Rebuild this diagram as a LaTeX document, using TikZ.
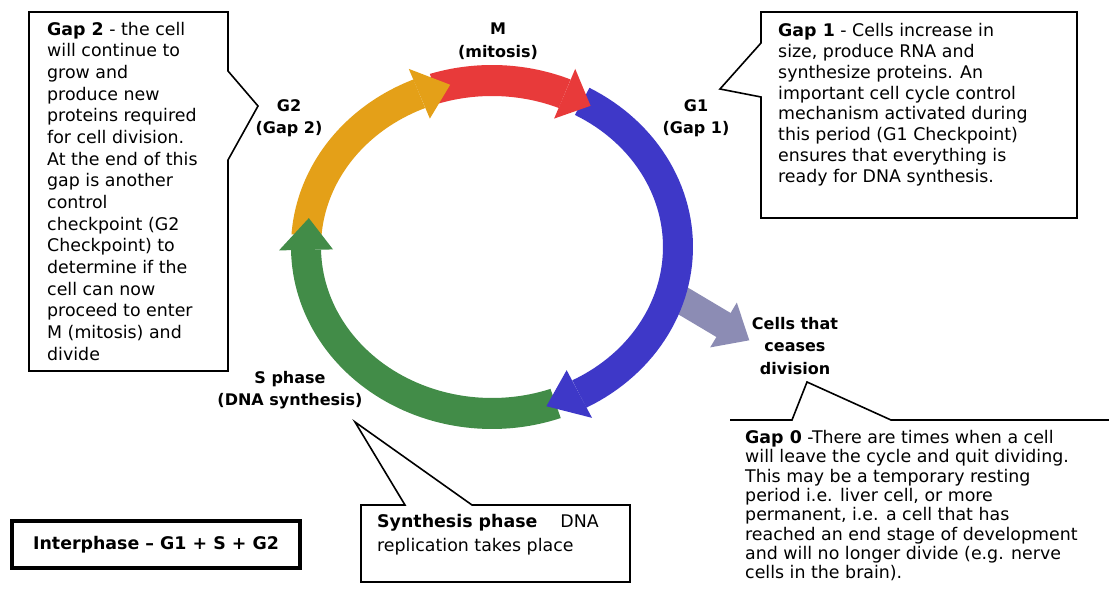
\documentclass[tikz,border=0pt]{standalone}
\usepackage{fontspec}
\setmainfont{DejaVu Sans}
\definecolor{cRed}{RGB}{232,58,58}
\definecolor{cOrange}{RGB}{228,160,24}
\definecolor{cBlue}{RGB}{62,56,200}
\definecolor{cGreen}{RGB}{66,140,72}
\definecolor{cGray}{RGB}{140,140,180}
\newcommand{\ringbody}[3]{%
  \fill[#1] plot[domain=#2:#3,samples=60] ({492+201*cos(\x)},{247-182*sin(\x)})
    -- plot[domain=#3:#2,samples=60] ({492+171*cos(\x)},{247-151*sin(\x)}) -- cycle;}
\newcommand{\ringhead}[3]{%
  \fill[#1] ({492+213*cos(#2)},{247-193.5*sin(#2)})
    -- ({492+186*cos(#3)},{247-166.5*sin(#3)})
    -- ({492+159*cos(#2)},{247-139.5*sin(#2)}) -- cycle;}
\begin{document}
\begin{tikzpicture}[x=1pt,y=-1pt,
  callout/.style={draw=black,fill=white,line width=1.6pt,line join=miter},
  bodytext/.style={anchor=north west,inner sep=0pt,align=left},
  lbl/.style={inner sep=0pt,align=center,font=\fontsize{16}{22.5}\selectfont\bfseries}]
\useasboundingbox (0,0) rectangle (1109,604);
\fill[white] (0,0) rectangle (1109,604);

% arrow to G0 (behind ring)
\fill[cGray] (675.1,280) -- (730.6,313) -- (736.8,302.6) -- (749.3,340.3)
  -- (710.2,347.4) -- (716.4,337) -- (660.9,304) -- cycle;

% ring bodies
\ringbody{cOrange}{176}{113}
\ringbody{cRed}{108}{67}
\ringbody{cBlue}{61}{-62}
\ringbody{cGreen}{290}{181}
% ring heads
\ringhead{cOrange}{113}{103}
\ringhead{cRed}{67}{58}
\ringhead{cBlue}{-62}{-73}
\ringhead{cGreen}{181}{170}

% phase labels
\node[lbl] (lM) at (498,41) {M\\(mitosis)};
\node[lbl] (lG2) at (289,118) {G2\\(Gap 2)};
\node[lbl] (lG1) at (696,118) {G1\\(Gap 1)};
\node[lbl] (lS) at (290,390) {S phase\\(DNA synthesis)};
\node[lbl] (lG0) at (795,346) {Cells that\\ceases\\division};

% Gap 2 callout
\draw[callout] (29,12) -- (228,12) -- (228,71) -- (258,106) -- (228,160)
  -- (228,371) -- (29,371) -- cycle;
\node[bodytext,font=\fontsize{17.4}{21.67}\selectfont] (tG2) at (47,19.8) {\strut\textbf{Gap 2} - the cell\\will continue to\\grow and\\produce new\\proteins required\\for cell division.\\At the end of this\\gap is another\\control\\checkpoint (G2\\Checkpoint) to\\determine if the\\cell can now\\proceed to enter\\M (mitosis) and\\divide};

% Gap 1 callout
\draw[callout] (761,12) -- (1077,12) -- (1077,218) -- (761,218) -- (761,97)
  -- (720,89) -- (761,43) -- cycle;
\node[bodytext,font=\fontsize{17.4}{20.8}\selectfont] (tG1) at (778,21.9) {\strut\textbf{Gap 1} - Cells increase in\\size, produce RNA and\\synthesize proteins. An\\important cell cycle control\\mechanism activated during\\this period (G1 Checkpoint)\\ensures that everything is\\ready for DNA synthesis.};

% Gap 0 callout
\draw[line width=1.6pt,line join=miter] (730,420) -- (792,420) -- (807,382) -- (891,420) -- (1109,420);
\node[bodytext,font=\fontsize{17.4}{19.3}\selectfont] (tG0) at (745,429.8) {\strut\textbf{Gap 0} -There are times when a cell\\will leave the cycle and quit dividing.\\This may be a temporary resting\\period i.e. liver cell, or more\\permanent, i.e. a cell that has\\reached an end stage of development\\and will no longer divide (e.g. nerve\\cells in the brain).};

% Synthesis callout
\draw[callout] (361,505) -- (405,505) -- (355,422) -- (472,505) -- (630,505)
  -- (630,582) -- (361,582) -- cycle;
\node[bodytext,font=\fontsize{17.4}{24.4}\selectfont] (tS) at (377,510.2) {\strut\textbf{Synthesis phase}\hspace{23pt}DNA\\replication takes place};

% Interphase box
\node[draw=black,line width=3.5pt,minimum width=288pt,minimum height=47pt,inner sep=0pt,
  font=\fontsize{17.4}{21}\selectfont\bfseries] (inter) at (156,544.5) {Interphase – G1 + S + G2};
\end{tikzpicture}
\end{document}
